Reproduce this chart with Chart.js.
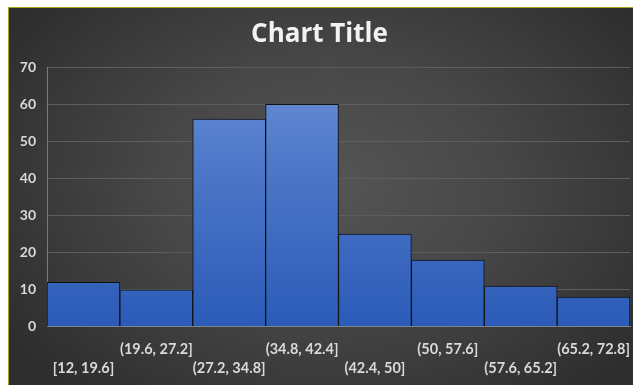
<!DOCTYPE html>
<html>
<head>
<meta charset="utf-8">
<script src="https://cdn.jsdelivr.net/npm/chart.js@4/dist/chart.umd.min.js"></script>
<style>
  html, body { margin: 0; padding: 0; background: #ffffff; overflow: hidden; }
  #frame {
    position: absolute; left: 8px; top: 7px; width: 640px; height: 390px;
    border-left: 1px solid #a6a61e; border-top: 1px solid #a6a61e;
    background: radial-gradient(ellipse 60% 70% at 50% 45%, #555555 0%, #474747 45%, #2e2e2e 100%);
  }
  #wrap { position: absolute; left: 0; top: 0; width: 625px; height: 377px; }
</style>
</head>
<body>
<div id="frame"><div id="wrap"><canvas id="c"></canvas></div></div>
<script>
const categories = ['[12, 19.6]', '(19.6, 27.2]', '(27.2, 34.8]', '(34.8, 42.4]', '(42.4, 50]', '(50, 57.6]', '(57.6, 65.2]', '(65.2, 72.8]'];
const counts = [12, 10, 56, 60, 25, 18, 11, 8];
const yTicks = [0, 10, 20, 30, 40, 50, 60, 70];

const staggered = categories.map((c, i) => i % 2 === 0 ? ['', c] : [c, '']);

new Chart(document.getElementById('c'), {
  type: 'bar',
  data: {
    labels: staggered,
    datasets: [{
      data: counts,
      backgroundColor: (ctx) => {
        const ca = ctx.chart.chartArea;
        if (!ca) return '#3a68c0';
        const g = ctx.chart.ctx.createLinearGradient(0, ca.top, 0, ca.bottom);
        g.addColorStop(0, '#6a90d6');
        g.addColorStop(0.35, '#4f79c9');
        g.addColorStop(1, '#2b5bb8');
        return g;
      },
      borderColor: '#111111',
      borderWidth: 1,
      borderSkipped: 'bottom',
      categoryPercentage: 1.0,
      barPercentage: 1.0
    }]
  },
  options: {
    responsive: true,
    maintainAspectRatio: false,
    animation: false,
    layout: { padding: { left: 0, right: 4, top: 9, bottom: 0 } },
    plugins: {
      legend: { display: false },
      tooltip: { enabled: false },
      title: {
        display: true,
        text: 'Chart Title',
        color: '#f2f2f2',
        font: { family: 'Open Sans', size: 26, weight: 'bold' },
        padding: { top: 2, bottom: 17 }
      }
    },
    scales: {
      x: {
        afterFit(axis) { axis.paddingLeft = 0; axis.paddingRight = 0; axis.height -= 6.5; },
        grid: { display: false, drawTicks: false },
        border: { display: true, color: '#8a8a8a', width: 1 },
        ticks: {
          color: '#d9d9d9',
          font: { family: 'Lato', size: 14.5, weight: 'bold', lineHeight: 1.3 },
          maxRotation: 0, minRotation: 0, autoSkip: false,
          padding: 13.5
        }
      },
      y: {
        min: 0, max: 70,
        afterBuildTicks(axis) { axis.ticks = yTicks.map(v => ({ value: v })); },
        afterFit(axis) { axis.width = 38; },
        grid: { color: '#5e5e5e', lineWidth: 1, drawTicks: false },
        border: { display: true, color: '#7a7a7a', width: 1 },
        ticks: {
          color: '#d9d9d9',
          font: { family: 'Lato', size: 14, weight: 'bold' },
          padding: 11
        }
      }
    }
  }
});
</script>
</body>
</html>
